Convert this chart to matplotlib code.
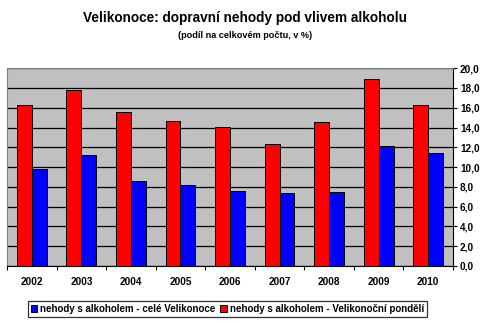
import matplotlib
matplotlib.use("Agg")
import matplotlib.pyplot as plt
import numpy as np
from matplotlib.ticker import FuncFormatter, MultipleLocator

plt.rcParams['font.family'] = ['Liberation Sans', 'DejaVu Sans']

years = ["2002", "2003", "2004", "2005", "2006", "2007", "2008", "2009", "2010"]
cele_velikonoce = [9.8, 11.2, 8.6, 8.2, 7.6, 7.4, 7.5, 12.1, 11.4]
velikonocni_pondeli = [16.3, 17.8, 15.6, 14.7, 14.1, 12.3, 14.6, 18.9, 16.3]

fig = plt.figure(figsize=(5.0, 3.23), dpi=100)
ax = fig.add_axes([0.014, 0.1765, 0.892, 0.6125])
ax.set_facecolor("#C0C0C0")

x = np.arange(len(years))
w = 0.3
ax.bar(x - w / 2, velikonocni_pondeli, w, color="#FF0000", edgecolor="black",
       linewidth=0.7, zorder=3, label="nehody s alkoholem - Velikonoční pondělí")
ax.bar(x + w / 2, cele_velikonoce, w, color="#0000FF", edgecolor="black",
       linewidth=0.7, zorder=3, label="nehody s alkoholem - celé Velikonoce")

ax.set_xlim(-0.5, len(years) - 0.5)
ax.set_ylim(0, 20)
ax.yaxis.set_major_locator(MultipleLocator(2))
ax.yaxis.set_major_formatter(FuncFormatter(lambda v, p: f"{v:.1f}".replace(".", ",")))
ax.yaxis.tick_right()
ax.grid(axis="y", color="black", linewidth=0.9, zorder=1)

ax.set_xticks(x)
ax.set_xticklabels(years, fontweight="bold", fontsize=7.2)
ax.set_xticks(np.arange(-0.5, len(years)), minor=True)
ax.tick_params(axis="x", which="major", length=0, pad=8)
ax.tick_params(axis="x", which="minor", length=3, direction="out", width=0.8)
ax.tick_params(axis="y", length=3, direction="out", width=0.8, pad=2)
for lbl in ax.get_yticklabels():
    lbl.set_fontweight("bold")
    lbl.set_fontsize(7.2)

ax.spines["top"].set_color("#808080")
ax.spines["left"].set_color("#808080")
ax.spines["right"].set_color("black")
ax.spines["bottom"].set_color("black")
for s in ax.spines.values():
    s.set_linewidth(0.8)

fig.text(0.49, 0.945, "Velikonoce: dopravní nehody pod vlivem alkoholu",
         ha="center", va="center", fontsize=9.8, fontweight="bold")
fig.text(0.49, 0.89, "(podíl na celkovém počtu, v %)",
         ha="center", va="center", fontsize=6.6, fontweight="bold")

handles, labels = ax.get_legend_handles_labels()
leg = fig.legend(handles[::-1], labels[::-1], loc="center", bbox_to_anchor=(0.455, 0.043),
                 ncol=2, frameon=True, fancybox=False,
                 handlelength=0.7, handleheight=0.7, handletextpad=0.3,
                 columnspacing=0.5, borderpad=0.3, edgecolor="black",
                 prop={"weight": "bold", "size": 7.0})
leg.get_frame().set_linewidth(0.9)

fig.savefig("out.png", dpi=100, facecolor="white")
